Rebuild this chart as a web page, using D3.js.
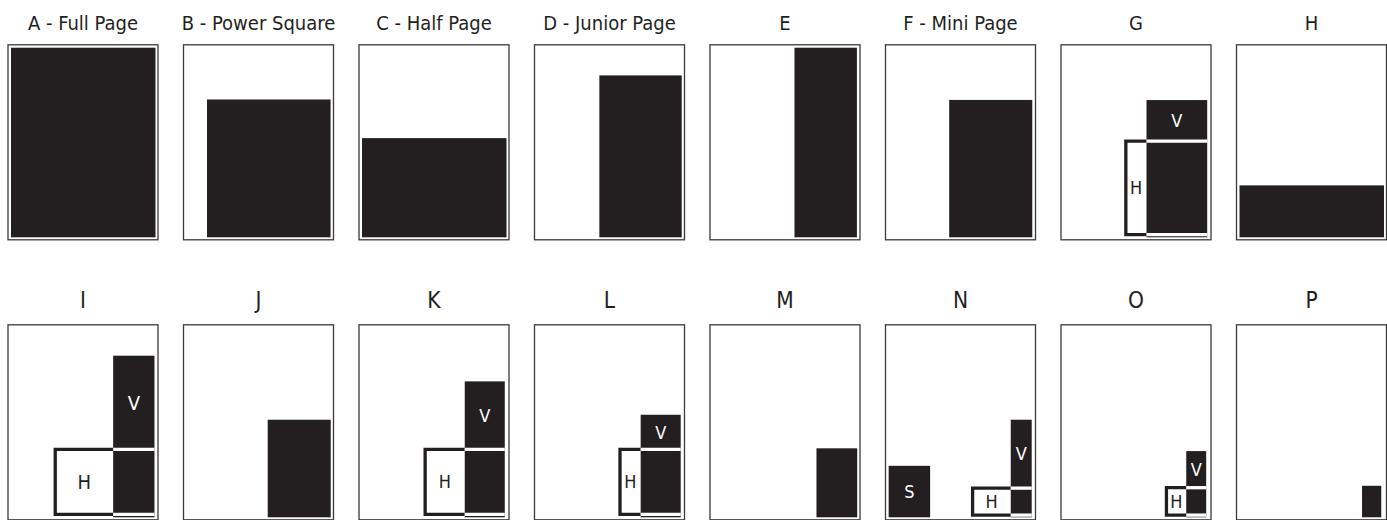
<script src="https://d3js.org/d3.v7.min.js"></script>

<div id="chart"></div>

<style>
body { margin: 0; padding: 0; background: #ffffff; }
#chart svg { display: block; }
.title { font-family: "DejaVu Sans Condensed", "DejaVu Sans", sans-serif; font-stretch: condensed; fill: #231f20; text-anchor: middle; }
.lbl { font-family: "DejaVu Sans Condensed", "DejaVu Sans", sans-serif; font-stretch: condensed; text-anchor: middle; dominant-baseline: central; }
</style>

<script>
// panel titles, left to right, top row then bottom row
const titles = ["A - Full Page", "B - Power Square", "C - Half Page", "D - Junior Page",
                "E", "F - Mini Page", "G", "H",
                "I", "J", "K", "L", "M", "N", "O", "P"];

// solid ads in page units (page is 10 wide x 13 tall): panel, x, y, w, h, label
const solidAds = [
    ["A", 0, 0, 10, 13, ""],
    ["B", 1.42, 3.55, 8.55, 9.45, ""],
    ["C", 0, 6.2, 10, 6.8, ""],
    ["D", 4.28, 1.9, 5.7, 11.1, ""],
    ["E", 5.64, 0, 4.32, 13, ""],
    ["F", 4.2, 3.58, 5.75, 9.42, ""],
    ["H", 0, 9.44, 10, 3.56, ""],
    ["J", 5.62, 6.31, 4.36, 6.69, ""],
    ["M", 7.16, 8.27, 2.82, 4.73, ""],
    ["N", 0.01, 9.47, 2.87, 3.53, "S"],
    ["P", 8.48, 10.84, 1.33, 2.16, ""]
];

// vertical + horizontal pairs: panel, V x, V y, V w, H top, H left, H bottom
const combos = [
    ["G", 5.71, 3.59, 4.2, 6.4, 4.28, 12.81],
    ["I", 7.07, 1.92, 2.86, 8.34, 3.06, 12.8],
    ["K", 7.11, 3.68, 2.77, 8.34, 4.37, 12.8],
    ["L", 7.14, 5.97, 2.77, 8.34, 5.71, 12.8],
    ["N", 8.46, 6.31, 1.45, 11.0, 5.82, 12.85],
    ["O", 8.46, 8.46, 1.38, 10.97, 7.09, 12.85]
];

const W = 1387, H = 520;
const panelW = 151, panelH = 196;
const ink = "#231f20";

const svg = d3.select("#chart").append("svg").attr("width", W).attr("height", H);

const letters = titles.map(t => t[0]);
const colX = d3.scaleLinear().domain([0, 7]).range([7.5, 1236]);
const rowY = d3.scaleOrdinal().domain([0, 1]).range([44.3, 324.3]);
const titleY = d3.scaleOrdinal().domain([0, 1]).range([30, 307.5]);

// page units -> pixels inside a panel
const px = d3.scaleLinear().domain([0, 10]).range([3.5, 148]);
const py = d3.scaleLinear().domain([0, 13]).range([3.4, 193]);

const panels = svg.selectAll("g.panel")
    .data(letters)
    .join("g")
    .attr("class", "panel")
    .attr("id", d => "p-" + d)
    .attr("transform", (d, i) => `translate(${colX(i % 8)},${rowY(Math.floor(i / 8))})`);

panels.append("rect")
    .attr("x", 0.5).attr("y", 0.5)
    .attr("width", panelW - 1).attr("height", panelH - 1)
    .attr("fill", "#fff")
    .attr("stroke", "#3a3a3a")
    .attr("stroke-width", 1.3);

svg.selectAll("text.title")
    .data(titles)
    .join("text")
    .attr("class", "title")
    .attr("x", (d, i) => colX(i % 8) + panelW / 2)
    .attr("y", (d, i) => titleY(Math.floor(i / 8)))
    .style("font-size", (d, i) => i < 8 ? "20px" : "22.5px")
    .text(d => d);

// solid ads
solidAds.forEach(([p, x, y, w, h, label]) => {
    const g = svg.select("#p-" + p);
    g.append("rect")
        .attr("x", px(x)).attr("y", py(y))
        .attr("width", px(x + w) - px(x)).attr("height", py(y + h) - py(y))
        .attr("fill", ink);
    if (label) {
        g.append("text").attr("class", "lbl")
            .attr("x", px(x + w / 2)).attr("y", py(y + h / 2))
            .attr("fill", "#fff").style("font-size", "18px")
            .text(label);
    }
});

// vertical ad with horizontal ad outlined across it
combos.forEach(([p, vx, vy, vw, hTop, hLeft, hBottom]) => {
    const g = svg.select("#p-" + p);
    const vr = vx + vw;
    g.append("rect")
        .attr("x", px(vx)).attr("y", py(vy))
        .attr("width", px(vr) - px(vx)).attr("height", py(13) - py(vy))
        .attr("fill", ink);

    const outline = d3.path();
    outline.moveTo(px(vx), py(hTop));
    outline.lineTo(px(hLeft), py(hTop));
    outline.lineTo(px(hLeft), py(hBottom));
    outline.lineTo(px(vx), py(hBottom));
    g.append("path").attr("d", outline.toString())
        .attr("fill", "none").attr("stroke", ink)
        .attr("stroke-width", 3.3).attr("stroke-linejoin", "miter");

    [hTop, hBottom].forEach(yy => {
        g.append("line")
            .attr("x1", px(vx)).attr("x2", px(vr))
            .attr("y1", py(yy)).attr("y2", py(yy))
            .attr("stroke", "#fff").attr("stroke-width", 3.3);
    });

    g.append("text").attr("class", "lbl")
        .attr("x", px(vx + vw / 2)).attr("y", py((vy + hTop) / 2))
        .attr("fill", "#fff").style("font-size", p === "I" ? "20px" : "18px")
        .text("V");
    g.append("text").attr("class", "lbl")
        .attr("x", px((hLeft + vx) / 2)).attr("y", py((hTop + hBottom) / 2))
        .attr("fill", ink).style("font-size", p === "I" ? "20px" : "18px")
        .text("H");
});
</script>
